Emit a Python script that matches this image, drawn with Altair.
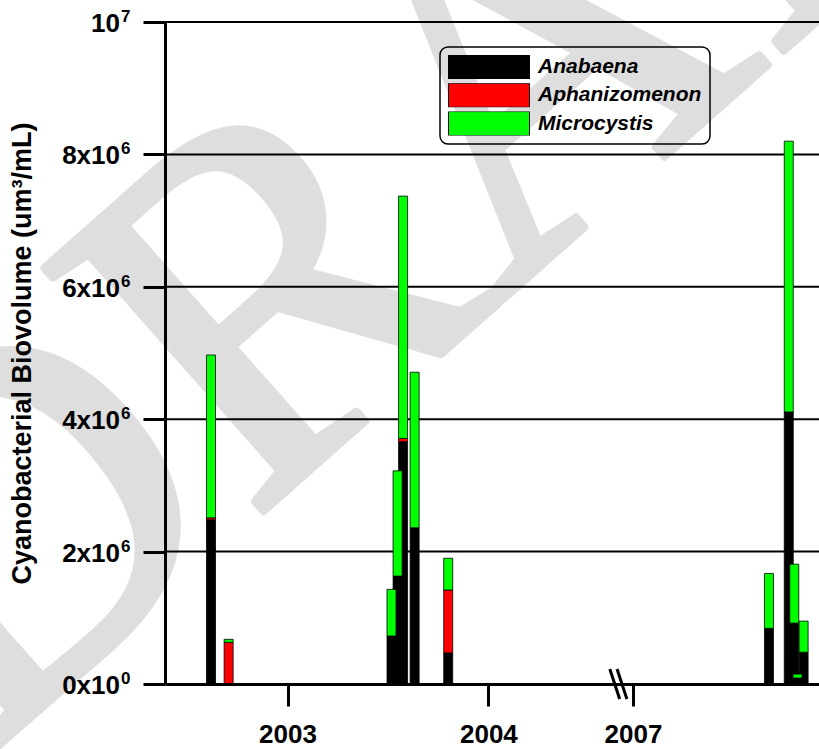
import altair as alt
import pandas as pd

# Sampling dates and cyanobacterial biovolume per genus (x10^6 um3/mL)
sample_dates = [
    "2002-08-15", "2002-09-16",
    "2003-07-09", "2003-07-20", "2003-07-30", "2003-08-20", "2003-10-20",
    "2007-09-05", "2007-10-11", "2007-10-21", "2007-10-27", "2007-11-07",
]
anabaena = [2.48, 0.0, 0.725, 1.63, 3.66, 2.36, 0.47, 0.84, 4.11, 0.92, 0.09, 0.48]
aphanizomenon = [0.03, 0.63, 0.0, 0.0, 0.05, 0.0, 0.95, 0.0, 0.0, 0.0, 0.0, 0.0]
microcystis = [2.46, 0.045, 0.705, 1.59, 3.66, 2.35, 0.48, 0.83, 4.09, 0.89, 0.06, 0.47]

genera = ["Anabaena", "Aphanizomenon", "Microcystis"]
genus_colors = ["#000000", "#ff0000", "#00ff00"]

tick_years = [2003, 2004, 2007]
y_ticks = [0, 2e6, 4e6, 6e6, 8e6, 1e7]
y_tick_base = ["0x10", "2x10", "4x10", "6x10", "8x10", "10"]
y_tick_exp = ["0", "6", "6", "6", "6", "7"]
grid_values = [2e6, 4e6, 6e6, 8e6, 1e7]

FONT = "Liberation Sans"

# The axis skips 2005-2006: years from 2007 on are shifted left
GAP_START = 2007.0
GAP_POS = 2004.72


def axis_pos(decimal_year):
    if decimal_year >= GAP_START:
        return decimal_year - GAP_START + GAP_POS
    return decimal_year


def decimal_year(date_str):
    d = pd.Timestamp(date_str)
    days = 366 if d.is_leap_year else 365
    return d.year + (d.dayofyear - 1) / days


positions = [axis_pos(decimal_year(d)) for d in sample_dates]
tick_pos = [axis_pos(float(y)) for y in tick_years]
break_pos = 2004.647

# Stacked segments, drawn genus by genus so later genera sit on top
series = (anabaena, aphanizomenon, microcystis)
rows = []
for g, (genus, values) in enumerate(zip(genera, series)):
    for i, (p, v) in enumerate(zip(positions, values)):
        base = sum(s[i] for s in series[:g])
        if v > 0:
            rows.append({"pos": p, "genus": genus, "lo": base * 1e6, "hi": (base + v) * 1e6})
seg_df = pd.DataFrame(rows)

x_scale = alt.Scale(domain=[2002.415, 2005.621], nice=False, zero=False)
y_scale = alt.Scale(domain=[0, 1e7], nice=False, zero=True)

x_axis = alt.Axis(
    values=tick_pos,
    labelExpr="datum.value >= %s ? format(datum.value + %s, 'd') : format(datum.value, 'd')"
    % (GAP_POS - 0.01, GAP_START - GAP_POS),
    title=None,
    grid=False,
    tickSize=22,
    tickWidth=3,
    tickColor="black",
    domainWidth=3,
    domainColor="black",
    labelFont=FONT,
    labelFontSize=26,
    labelFontWeight="bold",
    labelColor="black",
    labelPadding=15,
    labelFlush=False,
    labelOverlap=False,
    zindex=1,
)

y_axis = alt.Axis(
    values=y_ticks,
    labels=False,
    grid=False,
    tickSize=22,
    tickWidth=3,
    tickColor="black",
    domainWidth=3,
    domainColor="black",
    title="Cyanobacterial Biovolume (um³/mL)",
    titleFont=FONT,
    titleFontSize=27,
    titleFontWeight="bold",
    titleColor="black",
    titleAngle=270,
    titleBaseline="alphabetic",
    titleAlign="center",
    titleX=-135,
    titleY=331,
    zindex=1,
)

# Faint diagonal "DRAFT" stamp behind the plot
stamp = alt.Chart(pd.DataFrame({"t": ["DRAFT"]})).mark_text(
    font="Liberation Serif",
    fontSize=500,
    angle=318.5,
    align="left",
    baseline="alphabetic",
    color="#dedede",
    stroke="#dedede",
    strokeWidth=8,
    strokeJoin="round",
).encode(x=alt.value(-185), y=alt.value(740), text="t:N")

grid = alt.Chart(pd.DataFrame({"v": grid_values})).mark_rule(
    color="black", strokeWidth=2
).encode(y=alt.Y("v:Q", scale=y_scale, axis=y_axis))

bars = alt.Chart(seg_df).mark_bar(size=9, stroke="black", strokeWidth=0.8).encode(
    x=alt.X("pos:Q", scale=x_scale, axis=x_axis),
    y=alt.Y("lo:Q", scale=y_scale, axis=y_axis),
    y2="hi:Q",
    color=alt.Color(
        "genus:N",
        scale=alt.Scale(domain=genera, range=genus_colors),
        legend=alt.Legend(
            title=None,
            orient="none",
            legendX=275,
            legendY=25,
            symbolType="M-1,-0.2963H1V0.2963H-1Z",
            symbolSize=6561,
            symbolStrokeColor="black",
            symbolStrokeWidth=1,
            symbolOpacity=1,
            clipHeight=24,
            rowPadding=4.3,
            labelOffset=8,
            labelFont=FONT,
            labelFontSize=21,
            labelFontStyle="italic",
            labelFontWeight="bold",
            labelColor="black",
            labelLimit=400,
        ),
    ),
)

# Axis break marks on the time axis
slash_df = pd.DataFrame({"c": [break_pos - 0.018, break_pos + 0.018]})
slashes = alt.Chart(slash_df).transform_calculate(
    xa="datum.c - 0.0245", xb="datum.c + 0.0245"
).mark_rule(color="black", strokeWidth=3).encode(
    x=alt.X("xa:Q", scale=x_scale, axis=x_axis),
    x2="xb:Q",
    y=alt.value(647),
    y2=alt.value(677),
)

lab_df = pd.DataFrame({"v": y_ticks, "base": y_tick_base, "sup": y_tick_exp})
base_text = alt.Chart(lab_df).mark_text(
    align="right", baseline="alphabetic", dy=10, fontSize=26, fontWeight="bold", font=FONT, color="black"
).encode(y=alt.Y("v:Q", scale=y_scale, axis=y_axis), x=alt.value(-45), text="base:N")
sup_text = alt.Chart(lab_df).mark_text(
    align="left", baseline="alphabetic", dy=0, dx=1, fontSize=17, fontWeight="bold", font=FONT, color="black"
).encode(y=alt.Y("v:Q", scale=y_scale, axis=y_axis), x=alt.value(-45), text="sup:N")

chart = alt.layer(stamp, grid, bars, slashes, base_text, sup_text).properties(
    width=654,
    height=662,
    padding={"left": 165, "top": 22, "right": 0, "bottom": 65},
    autosize=alt.AutoSizeParams(type="none"),
    background="white",
).configure_view(
    stroke=None
).configure_legend(
    padding=8,
    strokeColor="black",
    strokeWidth=1.5,
    cornerRadius=8,
)

chart.save("out.html", embed_options={"renderer": "svg", "actions": False})
